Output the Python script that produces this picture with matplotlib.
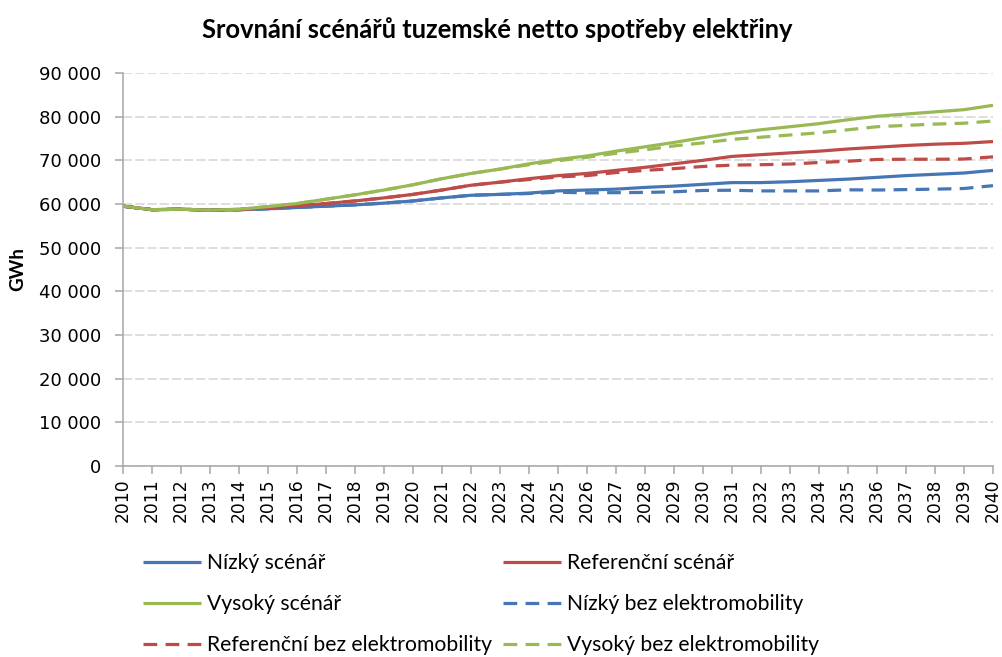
import matplotlib
matplotlib.use("Agg")
import matplotlib.pyplot as plt
from matplotlib.ticker import FuncFormatter

years = list(range(2010, 2041))

nizky = [59500, 58700, 58800, 58600, 58700, 58900, 59200, 59500, 59800, 60200,
         60700, 61400, 62000, 62200, 62500, 63000, 63200, 63400, 63800, 64100,
         64500, 64900, 64900, 65100, 65400, 65700, 66100, 66500, 66800, 67100, 67700]
referencni = [59500, 58700, 58800, 58600, 58700, 59100, 59600, 60100, 60700, 61400,
              62200, 63200, 64300, 65000, 65800, 66500, 67000, 67700, 68400, 69200,
              70000, 70900, 71300, 71700, 72100, 72600, 73000, 73400, 73700, 73900, 74300]
vysoky = [59500, 58700, 58800, 58600, 58800, 59400, 60100, 61100, 62100, 63200,
          64400, 65800, 67000, 68000, 69200, 70200, 71000, 72100, 73100, 74100,
          75200, 76200, 77000, 77700, 78400, 79300, 80100, 80600, 81100, 81600, 82600]
nizky_bez = [59500, 58700, 58800, 58600, 58700, 58900, 59200, 59500, 59800, 60200,
             60700, 61400, 62000, 62200, 62400, 62700, 62550, 62600, 62650, 62800,
             63100, 63150, 63000, 63000, 63000, 63250, 63200, 63300, 63400, 63550, 64200]
referencni_bez = [59500, 58700, 58800, 58600, 58700, 59100, 59600, 60100, 60700, 61400,
                  62200, 63200, 64300, 65000, 65600, 66200, 66500, 67200, 67700, 68100,
                  68600, 68900, 69000, 69150, 69500, 69800, 70200, 70250, 70250, 70300, 70800]
vysoky_bez = [59500, 58700, 58800, 58600, 58800, 59400, 60100, 61100, 62100, 63200,
              64400, 65800, 67000, 68000, 69000, 69900, 70700, 71600, 72400, 73300,
              74000, 74800, 75300, 75800, 76300, 77000, 77700, 78000, 78300, 78500, 79000]

labels = ["Nízký scénář", "Referenční scénář", "Vysoký scénář",
          "Nízký bez elektromobility", "Referenční bez elektromobility",
          "Vysoký bez elektromobility"]
title = "Srovnání scénářů tuzemské netto spotřeby elektřiny"
ylabel = "GWh"
yticks = list(range(0, 90001, 10000))

BLUE = "#4676B4"
RED = "#BE4B48"
GREEN = "#98B954"
DASH = (0, (4.3, 2.6))

fig = plt.figure(figsize=(10.02, 6.57), dpi=100)
ax = fig.add_axes([123 / 1002, 1 - 466 / 657, 870 / 1002, 393 / 657])

lw = 2.3
series = [
    (vysoky_bez, GREEN, DASH, labels[5]),
    (referencni_bez, RED, DASH, labels[4]),
    (nizky_bez, BLUE, DASH, labels[3]),
    (nizky, BLUE, "-", labels[0]),
    (referencni, RED, "-", labels[1]),
    (vysoky, GREEN, "-", labels[2]),
]
handles = {}
for data, col, ls, lab in series:
    ln, = ax.plot(years, data, color=col, linestyle=ls, linewidth=lw, label=lab,
                  solid_capstyle="butt", dash_capstyle="butt", clip_on=False)
    handles[lab] = ln

ax.set_xlim(2010, 2040)
ax.set_ylim(0, 90000)
ax.set_xticks(years)
ax.set_xticklabels([str(y) for y in years], rotation=90, fontsize=12.3,
                   family="DejaVu Sans")
ax.set_yticks(yticks)
ax.yaxis.set_major_formatter(FuncFormatter(lambda v, p: f"{int(v):,}".replace(",", " ")))
for t in ax.get_yticklabels():
    t.set_fontsize(13)
    t.set_family("DejaVu Sans")

ax.grid(axis="y", color="#D4D4D4", linestyle=(0, (6, 2)), linewidth=1.1)
ax.set_axisbelow(True)
for s in ["top", "right"]:
    ax.spines[s].set_visible(False)
for s in ["left", "bottom"]:
    ax.spines[s].set_color("#A6A6A6")
    ax.spines[s].set_linewidth(1.1)
ax.tick_params(axis="x", color="#A6A6A6", length=6, width=1.1, pad=3,
               labelcolor="#000000")
ax.tick_params(axis="y", color="#A6A6A6", length=6, width=1.1, pad=10,
               labelcolor="#000000")

ax.set_ylabel(ylabel, fontsize=13.5, fontweight="bold", family="Lato")
ax.yaxis.set_label_coords(-97 / 870, 0.5)

fig.text(497 / 1002, 1 - 30 / 657, title, ha="center", va="center",
         fontsize=18.4, fontweight="bold", family="Lato", color="#000000")

col1 = [handles[labels[0]], handles[labels[2]], handles[labels[4]]]
col1_lab = [labels[0], labels[2], labels[4]]
col2 = [handles[labels[1]], handles[labels[3]], handles[labels[5]]]
col2_lab = [labels[1], labels[3], labels[5]]

leg_kw = dict(frameon=False, handlelength=2.75, handletextpad=0.3,
              labelspacing=1.0, borderaxespad=0, borderpad=0,
              prop={"family": "Lato", "size": 15.2}, loc="upper left")
leg1 = fig.legend(col1, col1_lab, bbox_to_anchor=(143 / 1002, 1 - 553 / 657), **leg_kw)
leg2 = fig.legend(col2, col2_lab, bbox_to_anchor=(503 / 1002, 1 - 553 / 657), **leg_kw)
for leg in (leg1, leg2):
    for t in leg.get_texts():
        t.set_color("#000000")

fig.savefig("out.png", dpi=100)
